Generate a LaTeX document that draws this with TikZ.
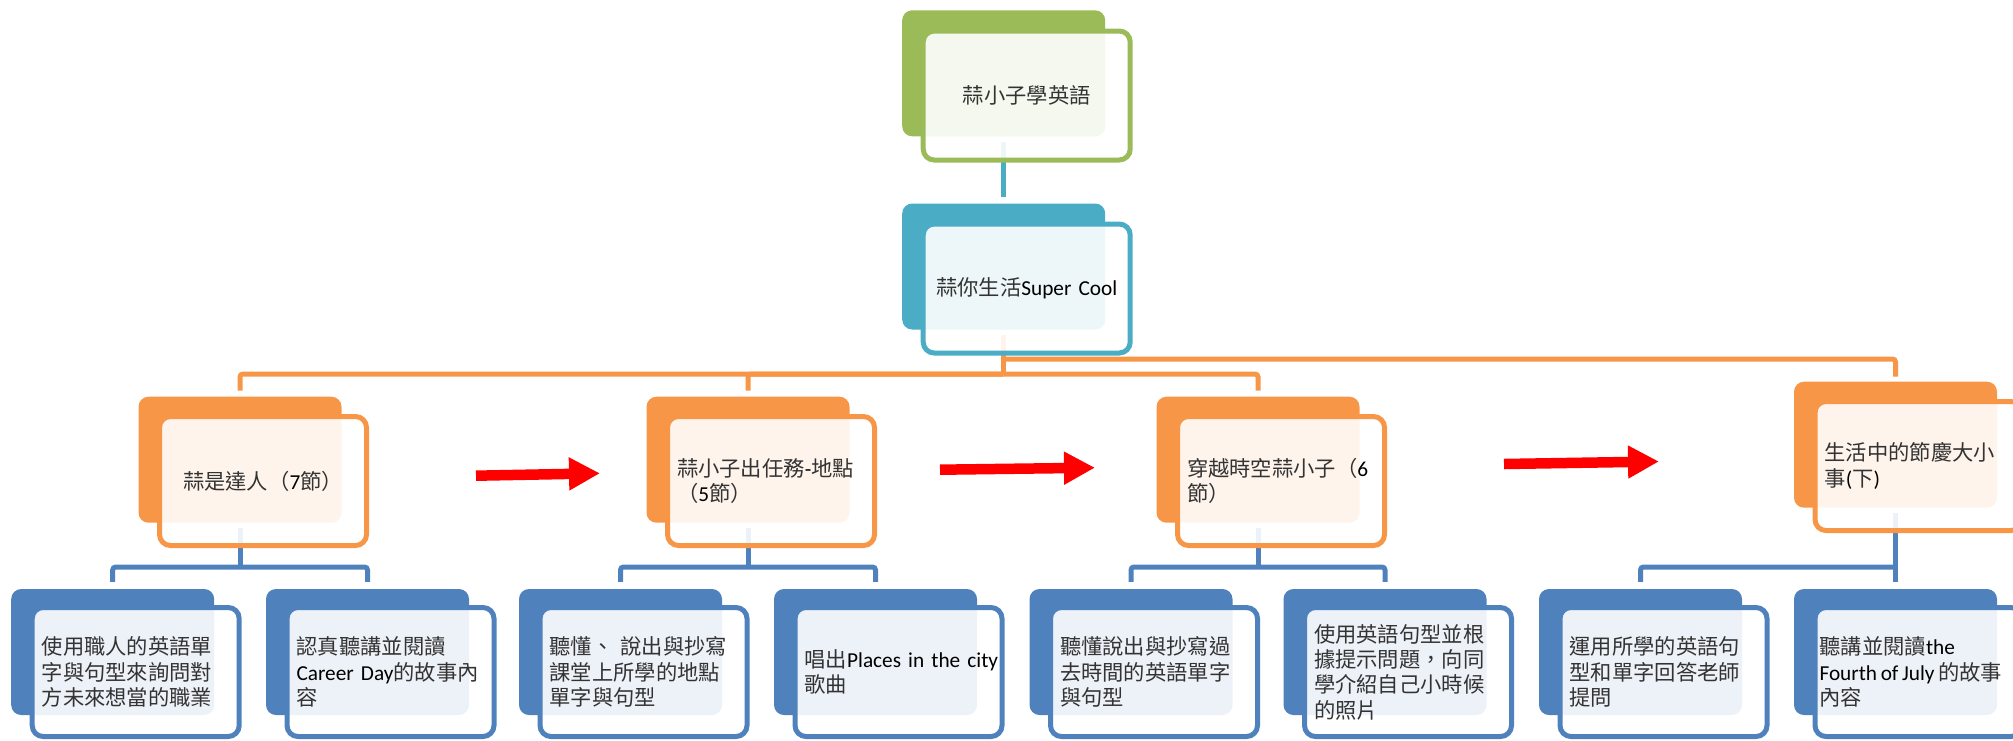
\documentclass[tikz,border=0pt]{standalone}
\usepackage{fontspec}
\setmainfont{Carlito}
\newfontfamily\cjk{Noto Sans CJK TC}
\usetikzlibrary{arrows.meta}
\definecolor{cgreen}{HTML}{9BBB59}
\definecolor{cteal}{HTML}{4BACC6}
\definecolor{corange}{HTML}{F79646}
\definecolor{cblue}{HTML}{4F81BD}
\definecolor{cred}{HTML}{FF0000}
\definecolor{ctext}{HTML}{333333}
\newcommand\C[1]{{\cjk\color{ctext}#1}}
\tikzset{
  backbox/.style={rectangle, rounded corners=10pt, minimum width=203pt, minimum height=126pt, inner sep=0pt, fill=#1},
  frontbox/.style={rectangle, rounded corners=11pt, minimum width=207pt, minimum height=129pt, inner sep=0pt,
    draw=#1, line width=5pt, fill=white, fill opacity=0.9, text opacity=1, text=black,
    text width=188pt, align=left, font=\fontsize{21.3pt}{25.3pt}\selectfont},
  centred/.style={align=center},
  conn/.style={draw=#1, line width=5pt, rounded corners=3pt},
  redarrow/.style={draw=cred, line width=10.5pt, -{Triangle[length=31pt,width=31pt]}},
}
\begin{document}
\begin{tikzpicture}[x=1pt,y=-1pt]
\useasboundingbox (0,0) rectangle (2013,740);
\clip (0,0) rectangle (2013,740);

% back rectangles
\node[backbox=cgreen] (b0) at (1003.7,73.3) {};
\node[backbox=cteal] (b1) at (1003.7,266.5) {};
\node[backbox=corange] (b31) at (240,459.7) {};
\node[backbox=corange] (b32) at (748,459.7) {};
\node[backbox=corange] (b33) at (1258,459.7) {};
\node[backbox=corange] (b34) at (1895.5,444.7) {};
\node[backbox=cblue] (b41) at (112.7,652) {};
\node[backbox=cblue] (b42) at (367.5,652) {};
\node[backbox=cblue] (b43) at (620.5,652) {};
\node[backbox=cblue] (b44) at (875.5,652) {};
\node[backbox=cblue] (b45) at (1131,652) {};
\node[backbox=cblue] (b46) at (1385,652) {};
\node[backbox=cblue] (b47) at (1640.5,652) {};
\node[backbox=cblue] (b48) at (1895.5,652) {};

% connectors
\coordinate (busA) at (1003.7,374);
\coordinate (busB) at (1003.7,359);
\coordinate (q1) at (240,567);
\coordinate (q2) at (748,567);
\coordinate (q3) at (1258,567);
\coordinate (q4) at (1895.5,567);
\draw[conn=cteal] ([yshift=-5pt]b0.south) -- ([yshift=6pt]b1.north);
\draw[conn=corange] ([yshift=-5pt]b1.south) -- (busA);
\draw[conn=corange] (busA) -| ([yshift=6pt]b31.north);
\draw[conn=corange] (busA) -| ([yshift=6pt]b32.north);
\draw[conn=corange] (busA) -| ([yshift=6pt]b33.north);
\draw[conn=corange] (busB) -| ([yshift=5pt]b34.north);
\draw[conn=cblue] ([yshift=-5pt]b31.south) -- (q1);
\draw[conn=cblue] (q1) -| ([yshift=7pt]b41.north);
\draw[conn=cblue] (q1) -| ([yshift=7pt]b42.north);
\draw[conn=cblue] ([yshift=-5pt]b32.south) -- (q2);
\draw[conn=cblue] (q2) -| ([yshift=7pt]b43.north);
\draw[conn=cblue] (q2) -| ([yshift=7pt]b44.north);
\draw[conn=cblue] ([yshift=-5pt]b33.south) -- (q3);
\draw[conn=cblue] (q3) -| ([yshift=7pt]b45.north);
\draw[conn=cblue] (q3) -| ([yshift=7pt]b46.north);
\draw[conn=cblue] ([yshift=-5pt]b34.south) -- (q4);
\draw[conn=cblue] (q4) -| ([yshift=7pt]b47.north);
\draw[conn=cblue] (q4) -- ([yshift=7pt]b48.north);

% front boxes with text
\node[frontbox=cgreen, centred] (f0) at (1026.7,95.5) {\C{蒜小子學英語}};
\node[frontbox=cteal, centred] (f1) at (1026.7,288.5) {\C{蒜你生活}Super Cool};
\node[frontbox=corange, centred] (f31) at (263,481) {\C{蒜是達人（}7\C{節）}};
\node[frontbox=corange] (f32) at (771,481) {\C{蒜小子出任務}-\C{地點}\\\C{（}5\C{節）}};
\node[frontbox=corange] (f33) at (1281,481) {\C{穿越時空蒜小子（}6\\\C{節）}};
\node[frontbox=corange] (f34) at (1918.5,466) {\C{生活中的節慶大小}\\\C{事}(\C{下})};
\node[frontbox=cblue] (f41) at (135.7,672) {\C{使用職人的英語單}\\\C{字與句型來詢問對}\\\C{方未來想當的職業}};
\node[frontbox=cblue] (f42) at (390.5,672) {\C{認真聽講並閱讀}\\Career~Day\C{的故事內}\\\C{容}};
\node[frontbox=cblue] (f43) at (643.5,672) {\C{聽懂、}~\C{說出與抄寫}\\\C{課堂上所學的地點}\\\C{單字與句型}};
\node[frontbox=cblue] (f44) at (898.5,672) {\C{唱出}Places~in~the~city\\\C{歌曲}};
\node[frontbox=cblue] (f45) at (1154,672) {\C{聽懂說出與抄寫過}\\\C{去時間的英語單字}\\\C{與句型}};
\node[frontbox=cblue] (f46) at (1408,672) {\C{使用英語句型並根}\\\C{據提示問題，向同}\\\C{學介紹自己小時候}\\\C{的照片}};
\node[frontbox=cblue] (f47) at (1663.5,672) {\C{運用所學的英語句}\\\C{型和單字回答老師}\\\C{提問}};
\node[frontbox=cblue, text width=198pt] (f48) at (1918.5,672) {\C{聽講並閱讀}the\\Fourth\hspace{3.6pt}of\hspace{3.6pt}July\hspace{3.6pt}\C{的故事}\\\C{內容}};

% red arrows
\coordinate (a1s) at (476,475.7);
\coordinate (a1e) at (600,473.3);
\coordinate (a2s) at (940,469.7);
\coordinate (a2e) at (1095,467.7);
\coordinate (a3s) at (1504,464);
\coordinate (a3e) at (1659,461.5);
\draw[redarrow] (a1s) -- (a1e);
\draw[redarrow] (a2s) -- (a2e);
\draw[redarrow] (a3s) -- (a3e);
\end{tikzpicture}
\end{document}
